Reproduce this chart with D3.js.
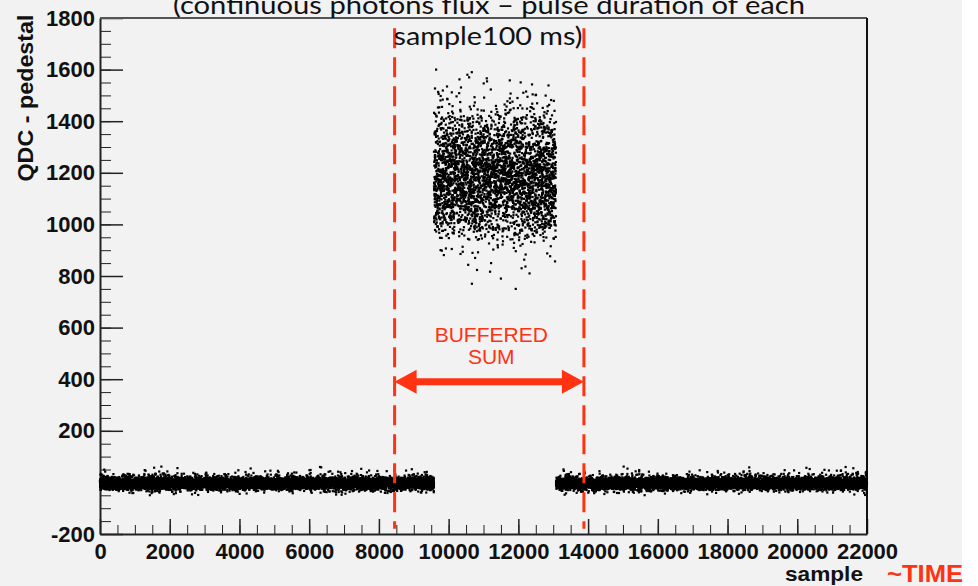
<!DOCTYPE html>
<html lang="en">
<head>
<meta charset="utf-8">
<title>QDC - pedestal vs sample</title>
<script src="https://d3js.org/d3.v7.min.js"></script>
<style>
  body { margin: 0; background: #fff; }
  .axis text { font-family: "Liberation Sans", Arial, sans-serif; font-weight: bold; font-size: 22px; fill: #111; }
  .axis path, .axis line { stroke: #222; }
</style>
</head>
<body>
<div id="chart"></div>
<script>
// sample ranges of the three runs: pedestal, photons on, pedestal
var segStart = [0, 9580, 13080];
var segEnd   = [9580, 13080, 22000];
var segKind  = ["pedestal", "signal", "pedestal"];

// QDC - pedestal quantiles, at these probabilities
var qProb     = [0, 0.001, 0.004, 0.012, 0.03, 0.07, 0.15, 0.3, 0.5, 0.7, 0.85, 0.93, 0.97, 0.985, 0.995, 0.999, 1];
var pedestalQ = [-50, -42, -36, -30, -25, -20, -15, -9, -4, 1, 7, 13, 19, 25, 34, 48, 62];
var signalQ   = [740, 810, 880, 940, 975, 1010, 1060, 1120, 1185, 1250, 1320, 1375, 1420, 1460, 1515, 1570, 1605];

// tick labels
var xTickLabels = [0, 2000, 4000, 6000, 8000, 10000, 12000, 14000, 16000, 18000, 20000, 22000];
var yTickLabels = [-200, 0, 200, 400, 600, 800, 1000, 1200, 1400, 1600, 1800];

// annotation: buffered sum window
var bufferEdges = [8450, 13880];
var markerSpan  = [1760, -180];
var arrowLevel  = 390;

var titleLines = ["(continuous photons flux \u2013 pulse duration of each", "sample100 ms)"];

var W = 978, H = 586;
var margin = {top: 18, right: 111, bottom: 52, left: 100},
    width = W - margin.left - margin.right,
    height = H - margin.top - margin.bottom;
var red = "#ff3311";

var svg = d3.select("#chart").append("svg")
    .attr("width", W)
    .attr("height", H);

svg.append("rect").attr("width", 962).attr("height", H).attr("fill", "#f2f2f2");

var g = svg.append("g")
    .attr("transform", "translate(" + margin.left + "," + margin.top + ")");

var x = d3.scaleLinear().domain([0, 22000]).range([0, width]);
var y = d3.scaleLinear().domain([-200, 1800]).range([height, 0]);

// points: a run of n samples takes the n quantiles of its distribution,
// laid along the run in a fixed shuffled order (so it reads as a scatter)
var shuffle = d3.shuffler(d3.randomLcg(0.37));
var data = [];
segStart.forEach(function(s, k) {
  var q = d3.scaleLinear().domain(qProb).range(segKind[k] == "signal" ? signalQ : pedestalQ);
  var n = segEnd[k] - s;
  var vals = d3.range(n).map(function(r) { return q((r + 0.5) / n); });
  shuffle(vals);
  vals.forEach(function(v, j) { data.push({sample: s + j, qdc: v}); });
});

// minor ticks
g.append("g").attr("class", "axis")
  .call(d3.axisLeft(y).tickValues(d3.range(-200, 1801, 50)).tickSizeInner(-11).tickSizeOuter(0).tickFormat(""))
  .select(".domain").remove();
g.append("g").attr("class", "axis")
  .attr("transform", "translate(0," + height + ")")
  .call(d3.axisBottom(x).tickValues(d3.range(0, 22001, 500)).tickSizeInner(-9).tickSizeOuter(0).tickFormat(""))
  .select(".domain").remove();

// major ticks + labels
var yAxis = g.append("g").attr("class", "axis")
  .call(d3.axisLeft(y).tickValues(yTickLabels).tickSizeInner(-23).tickSizeOuter(0).tickPadding(5)
    .tickFormat(function(d) { return d === 0 ? "" : d; }));
yAxis.selectAll(".tick line").attr("stroke-width", 1.5);
yAxis.select(".domain").attr("stroke-width", 2);

var xAxis = g.append("g").attr("class", "axis")
  .attr("transform", "translate(0," + height + ")")
  .call(d3.axisBottom(x).tickValues(xTickLabels).tickSizeInner(-15).tickSizeOuter(0).tickPadding(9)
    .tickFormat(d3.format("d")));
xAxis.selectAll(".tick line").attr("stroke-width", 1.5);
xAxis.select(".domain").attr("stroke-width", 2).attr("stroke", "#555");

// top and right frame
g.append("line").attr("x1", 0).attr("x2", width).attr("y1", 0).attr("y2", 0)
  .attr("stroke", "#555").attr("stroke-width", 2);
g.append("line").attr("x1", width).attr("x2", width).attr("y1", 0).attr("y2", height)
  .attr("stroke", "#111").attr("stroke-width", 2);

// samples
var dot = 2.2;
g.append("g").selectAll("rect")
  .data(data)
  .enter()
  .append("rect")
    .attr("x", function(d) { return x(d.sample) - dot / 2; })
    .attr("y", function(d) { return y(d.qdc) - dot / 2; })
    .attr("width", dot)
    .attr("height", dot)
    .attr("fill", "#000");

// axis titles
svg.append("text")
  .attr("transform", "translate(33,98) rotate(-90)")
  .attr("text-anchor", "middle")
  .attr("font-family", "Liberation Sans, Arial, sans-serif")
  .attr("font-weight", "bold").attr("font-size", 22)
  .attr("textLength", 167).attr("lengthAdjust", "spacingAndGlyphs")
  .attr("fill", "#111")
  .text("QDC - pedestal");

svg.append("text")
  .attr("x", 863).attr("y", 581)
  .attr("text-anchor", "end")
  .attr("font-family", "Liberation Sans, Arial, sans-serif")
  .attr("font-weight", "bold").attr("font-size", 21)
  .attr("textLength", 78).attr("lengthAdjust", "spacingAndGlyphs")
  .attr("fill", "#111")
  .text("sample");

svg.append("text")
  .attr("x", 887).attr("y", 582)
  .attr("font-family", "Liberation Sans, Arial, sans-serif")
  .attr("font-weight", "bold").attr("font-size", 24)
  .attr("textLength", 76).attr("lengthAdjust", "spacingAndGlyphs")
  .attr("fill", red)
  .text("~TIME");

// title (partly cut off at the top, as in the slide)
svg.append("text")
  .attr("x", 489).attr("y", 14)
  .attr("text-anchor", "middle")
  .attr("font-family", "Lato, sans-serif").attr("font-size", 25)
  .attr("textLength", 632).attr("lengthAdjust", "spacingAndGlyphs")
  .attr("fill", "#111")
  .text(titleLines[0]);
svg.append("text")
  .attr("x", 488).attr("y", 45)
  .attr("text-anchor", "middle")
  .attr("font-family", "Lato, sans-serif").attr("font-size", 25)
  .attr("textLength", 189).attr("lengthAdjust", "spacingAndGlyphs")
  .attr("fill", "#111")
  .text(titleLines[1]);

// buffered sum window
g.selectAll(".edge")
  .data(bufferEdges)
  .enter()
  .append("line")
    .attr("class", "edge")
    .attr("x1", function(d) { return x(d); })
    .attr("x2", function(d) { return x(d); })
    .attr("y1", y(markerSpan[0]))
    .attr("y2", y(markerSpan[1]))
    .attr("stroke", red)
    .attr("stroke-width", 3)
    .attr("stroke-dasharray", "20,9");

var ax0 = x(bufferEdges[0]), ax1 = x(bufferEdges[1]), ay = y(arrowLevel);
var head = 22, half = 12, shaft = 3.5;
g.append("path")
  .attr("d", "M" + ax0 + "," + ay +
    "L" + (ax0 + head) + "," + (ay - half) +
    "L" + (ax0 + head) + "," + (ay - shaft) +
    "L" + (ax1 - head) + "," + (ay - shaft) +
    "L" + (ax1 - head) + "," + (ay - half) +
    "L" + ax1 + "," + ay +
    "L" + (ax1 - head) + "," + (ay + half) +
    "L" + (ax1 - head) + "," + (ay + shaft) +
    "L" + (ax0 + head) + "," + (ay + shaft) +
    "L" + (ax0 + head) + "," + (ay + half) + "Z")
  .attr("fill", red);

g.append("text")
  .attr("x", (ax0 + ax1) / 2 + 2).attr("y", 342 - margin.top)
  .attr("text-anchor", "middle")
  .attr("font-family", "Liberation Sans, Arial, sans-serif").attr("font-size", 21)
  .attr("fill", red)
  .text("BUFFERED");
g.append("text")
  .attr("x", (ax0 + ax1) / 2 + 2).attr("y", 364 - margin.top)
  .attr("text-anchor", "middle")
  .attr("font-family", "Liberation Sans, Arial, sans-serif").attr("font-size", 21)
  .attr("fill", red)
  .text("SUM");
</script>
</body>
</html>
